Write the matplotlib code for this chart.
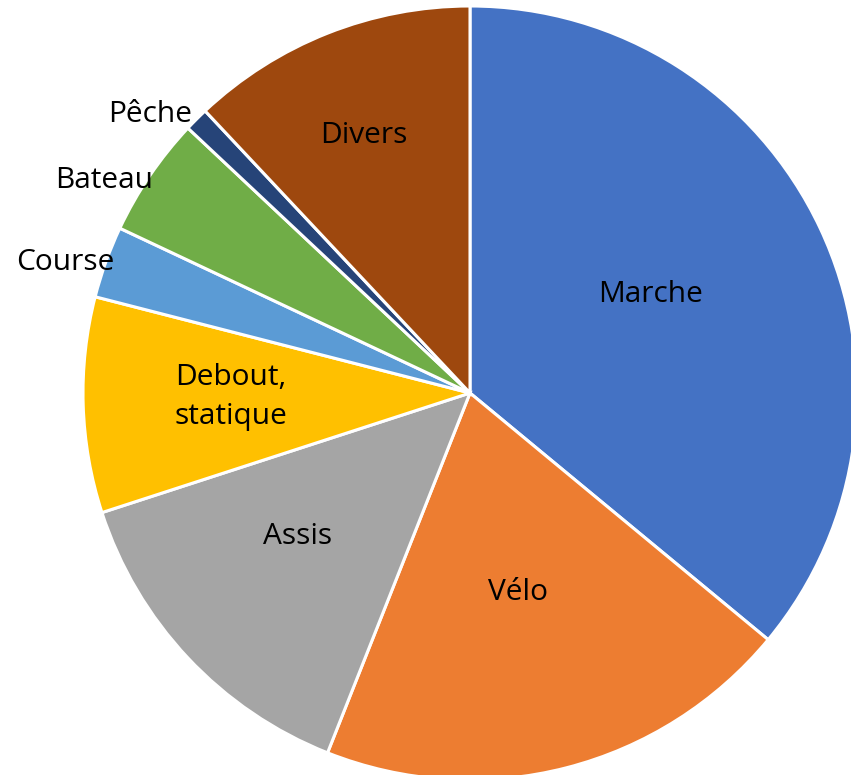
import matplotlib.pyplot as plt

categories = ['Marche', 'Vélo', 'Assis', 'Debout,\nstatique', 'Course', 'Bateau', 'Pêche', 'Divers']
values = [36, 20, 14, 9, 3, 5, 1, 12]
colors = ['#4472C4', '#ED7D31', '#A5A5A5', '#FFC000', '#5B9BD5', '#70AD47', '#264478', '#9E480E']

# label positions in pixels (x, y from top-left), centre of pie at (470, 393), radius 387 px
label_px = [(651, 294), (518, 592), (298, 537), (231, 397), (65, 262), (104, 180), (150, 114), (364, 135)]
cx, cy, rad = 470, 393, 387

fig = plt.figure(figsize=(8.51, 7.75), dpi=100)
ax = fig.add_axes([0, 0, 1, 1])
ax.pie(values, colors=colors, startangle=90, counterclock=False, radius=1,
       wedgeprops=dict(edgecolor='white', linewidth=2.2))

for name, (px, py) in zip(categories, label_px):
    ax.text((px - cx) / rad, (cy - py) / rad, name, ha='center', va='center',
            fontsize=21.5, family=['Open Sans', 'DejaVu Sans'], linespacing=1.45)

ax.set_xlim(-cx / rad, (851 - cx) / rad)
ax.set_ylim(-(775 - cy) / rad, cy / rad)
ax.set_aspect('equal')
ax.axis('off')
fig.savefig('out.png', dpi=100)
